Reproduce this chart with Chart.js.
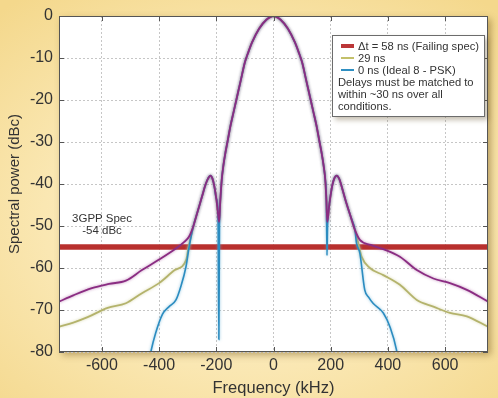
<!DOCTYPE html>
<html>
<head>
<meta charset="utf-8">
<script src="https://cdn.jsdelivr.net/npm/chart.js@4.4.1/dist/chart.umd.min.js"></script>
<style>
html, body { margin: 0; padding: 0; }
body {
  width: 498px; height: 398px; overflow: hidden;
  font-family: "Liberation Sans", Arial, sans-serif;
  background: radial-gradient(ellipse 75% 70% at 50% 55%, #fdf3d4 0%, #fae7b2 55%, #f4d88c 100%);
}
#wrap { position: relative; width: 498px; height: 398px; }
#legend {
  position: absolute; left: 332px; top: 35px; width: 141px; height: 72px;
  padding: 4px 5px 4px 5px;
  background: #fff; border: 1px solid #6c6c6c;
  box-shadow: 3px 3px 5px rgba(90, 70, 30, 0.35);
  font-size: 11.2px; line-height: 12px; color: #333;
}
#legend .row { white-space: nowrap; }
#legend .sw { display: inline-block; width: 13px; vertical-align: middle; margin: 0 4px 2px 3px; }
#spec {
  position: absolute; left: 62px; top: 212px; width: 80px;
  text-align: center; font-size: 11.5px; line-height: 12px; color: #333;
}
</style>
</head>
<body>
<div id="wrap">
  <canvas id="myChart" width="498" height="398"></canvas>
  <div id="spec">3GPP Spec<br>-54 dBc</div>
  <div id="legend">
    <div class="row"><span class="sw" style="height:4px;background:#bb3638"></span>Δt = 58 ns (Failing spec)</div>
    <div class="row"><span class="sw" style="height:2px;background:#c3c06a"></span>29 ns</div>
    <div class="row"><span class="sw" style="height:2px;background:#2f8fc2"></span>0 ns (Ideal 8 - PSK)</div>
    <div>Delays must be matched to<br>within ~30 ns over all<br>conditions.</div>
  </div>
</div>
<script>
// main lobe, same for all three traces (kHz / dBc)
var lobeFreq = [-186, -181, -175, -168, -161, -150, -140, -130, -115, -100, -90, -75, -50, -25, 0, 25, 50, 75, 90, 100, 115, 130, 140, 150, 161, 168, 175, 181, 185];
var lobePow  = [-44, -39, -35.5, -32.5, -30, -26, -23, -20, -15.5, -11, -9, -6.3, -3, -0.9, 0, -0.9, -3, -6.3, -9, -11, -15.5, -20, -23, -26, -30, -32.5, -35.5, -39, -44];

// first sidelobes
var sideLFreq = [-280, -265, -250, -237, -228, -221, -214, -207, -200, -194];
var sideLPow  = [-50, -46.5, -43, -40, -38.6, -38, -38.6, -40.5, -43.5, -47];
var sideRFreq = [195, 205, 213, 221, 230, 240, 255, 270, 285];
var sideRPow  = [-45, -40.5, -38.6, -38, -38.8, -41, -44.6, -47.8, -51];

// 58 ns trace
var leftFreq58 = [-750, -700, -635, -575, -516, -460, -400, -340, -312, -295];
var leftPow58  = [-68, -66.5, -64.8, -63.8, -63, -60.5, -58, -55.3, -53.8, -52.5];
var nullFreq58 = [-190, 188];
var nullPow58  = [-49, -49];
var rightFreq58 = [302, 340, 384, 442, 501, 559, 617, 676, 750];
var rightPow58  = [-53.3, -54.5, -55.5, -57.3, -60.5, -62.5, -63.6, -65.2, -68];

// 29 ns trace
var leftFreq29 = [-750, -700, -650, -580, -516, -460, -400, -345, -305, -297];
var leftPow29  = [-74, -73, -71.7, -69.5, -68.4, -66, -63.6, -60.5, -58, -55];
var nullFreq29 = [-190, 188];
var nullPow29  = [-49, -49];
var rightFreq29 = [296, 308, 337, 384, 442, 501, 559, 617, 676, 750];
var rightPow29  = [-54, -57.3, -60, -61.7, -64, -67.6, -69.2, -70.7, -71.5, -74];

// 0 ns trace
var leftFreq0 = [-440, -429, -412, -388, -365, -341, -324, -306, -295];
var leftPow0  = [-84, -80, -75.5, -71, -69.2, -67.6, -64.4, -59.7, -55];
var nullLFreq0 = [-191, -189];
var nullLPow0  = [-77, -50];
var nullRFreq0 = [187, 189];
var nullRPow0  = [-57, -50];
var rightFreq0 = [290, 302, 319, 333, 348, 384, 407, 430, 440];
var rightPow0  = [-54, -56.5, -65.2, -67, -68.4, -70.7, -74, -79.5, -84];

// spec limit
var specFreq = [-750, 750];
var specPow  = [-55, -55];

function pts(f, p) {
    return f.map(function (x, i) { return { x: x, y: p[i] }; });
}

function trace(parts) {
    var out = [];
    parts.forEach(function (pp) { out = out.concat(pts(pp[0], pp[1])); });
    out.sort(function (a, b) { return a.x - b.x; });
    return out;
}

var data58 = trace([[leftFreq58, leftPow58], [sideLFreq, sideLPow], [[nullFreq58[0]], [nullPow58[0]]],
    [lobeFreq, lobePow], [[nullFreq58[1]], [nullPow58[1]]], [sideRFreq, sideRPow], [rightFreq58, rightPow58]]);
var data29 = trace([[leftFreq29, leftPow29], [sideLFreq, sideLPow], [[nullFreq29[0]], [nullPow29[0]]],
    [lobeFreq, lobePow], [[nullFreq29[1]], [nullPow29[1]]], [sideRFreq, sideRPow], [rightFreq29, rightPow29]]);
var data0 = trace([[leftFreq0, leftPow0], [sideLFreq, sideLPow], [nullLFreq0, nullLPow0],
    [lobeFreq, lobePow], [nullRFreq0, nullRPow0], [sideRFreq, sideRPow], [rightFreq0, rightPow0]]);

// white plot box with shadow, frame and inward tick marks
var frame = {
    id: 'frame',
    beforeDraw: function (chart) {
        var ctx = chart.ctx, a = chart.chartArea;
        ctx.save();
        ctx.shadowColor = 'rgba(110, 80, 20, 0.45)';
        ctx.shadowBlur = 7;
        ctx.shadowOffsetX = 3;
        ctx.shadowOffsetY = 3;
        ctx.fillStyle = '#fff';
        ctx.fillRect(a.left, a.top, a.right - a.left, a.bottom - a.top);
        ctx.restore();
    },
    // soft halo round the measured traces
    beforeDatasetDraw: function (chart, args) {
        var ds = chart.data.datasets[args.index];
        chart.ctx.save();
        if (ds.glow) {
            chart.ctx.shadowColor = ds.glow;
            chart.ctx.shadowBlur = 3;
        }
    },
    afterDatasetDraw: function (chart) {
        chart.ctx.restore();
    },
    afterDraw: function (chart) {
        var ctx = chart.ctx, a = chart.chartArea, x = chart.scales.x, y = chart.scales.y;
        ctx.save();
        ctx.strokeStyle = '#555';
        ctx.lineWidth = 1;
        ctx.strokeRect(a.left + 0.5, a.top + 0.5, a.right - a.left - 1, a.bottom - a.top - 1);
        ctx.beginPath();
        x.ticks.forEach(function (t) {
            var px = Math.round(x.getPixelForValue(t.value)) + 0.5;
            ctx.moveTo(px, a.bottom); ctx.lineTo(px, a.bottom - 5);
            ctx.moveTo(px, a.top); ctx.lineTo(px, a.top + 5);
        });
        y.ticks.forEach(function (t) {
            var py = Math.round(y.getPixelForValue(t.value)) + 0.5;
            ctx.moveTo(a.left, py); ctx.lineTo(a.left + 5, py);
            ctx.moveTo(a.right, py); ctx.lineTo(a.right - 5, py);
        });
        ctx.stroke();
        ctx.restore();
    }
};

Chart.defaults.font.family = '"Liberation Sans", Arial, sans-serif';
Chart.defaults.color = '#333';

var ctx = document.querySelector('#myChart').getContext('2d');
var myChart = new Chart(ctx, {
    type: 'line',
    data: {
        datasets: [
            { label: 'Δt = 58 ns (Failing spec)', data: data58, borderColor: '#8a2c82', borderWidth: 1.8, glow: 'rgba(150,60,140,0.6)' },
            { label: '0 ns (Ideal 8 - PSK)', data: data0, borderColor: '#2b8cc0', borderWidth: 1.6, glow: 'rgba(90,170,210,0.7)' },
            { label: '29 ns', data: data29, borderColor: '#b4b36c', borderWidth: 1.8, glow: 'rgba(200,200,140,0.7)' },
            { label: 'spec', data: pts(specFreq, specPow), borderColor: '#b8302e', borderWidth: 5.5, cubicInterpolationMode: 'default', tension: 0 }
        ]
    },
    options: {
        responsive: false,
        animation: false,
        layout: { padding: { top: 16, right: 10, left: 0, bottom: 0 } },
        plugins: { legend: { display: false }, tooltip: { enabled: false } },
        elements: { point: { radius: 0 }, line: { cubicInterpolationMode: 'monotone' } },
        scales: {
            x: {
                type: 'linear', min: -750, max: 750,
                ticks: { stepSize: 200, includeBounds: false, autoSkip: false, padding: 4, font: { size: 16 } },
                grid: { color: '#c6c6c6', drawTicks: false },
                border: { display: false, dash: [2, 2] },
                title: { display: true, text: 'Frequency (kHz)', font: { size: 16.5 }, padding: { top: 0, bottom: 0 } },
                afterFit: function (s) { s.height = 46; }
            },
            y: {
                min: -80, max: 0,
                ticks: { stepSize: 10, padding: 6, font: { size: 16 } },
                grid: { color: '#c6c6c6', drawTicks: false },
                border: { display: false, dash: [2, 2] },
                title: { display: true, text: 'Spectral power (dBc)', font: { size: 15 }, padding: { top: 6, bottom: 0 } },
                afterFit: function (s) { s.width = 59; }
            }
        }
    },
    plugins: [frame]
});
</script>
</body>
</html>
